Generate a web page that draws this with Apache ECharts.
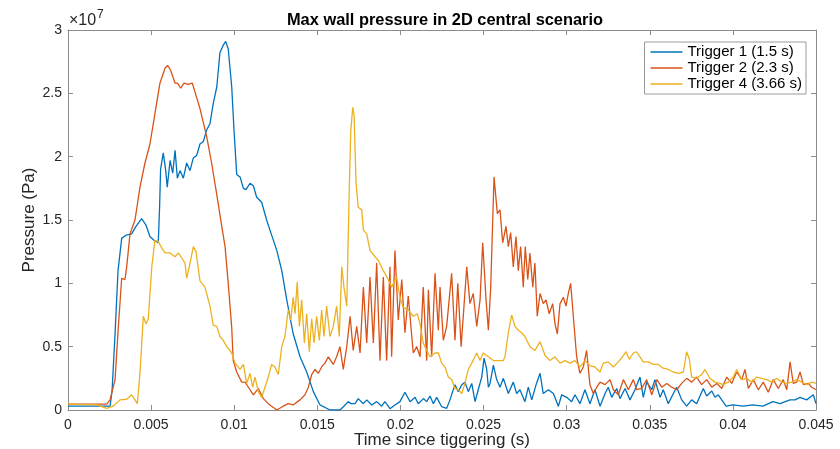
<!DOCTYPE html>
<html>
<head>
<meta charset="utf-8">
<script src="https://cdn.jsdelivr.net/npm/echarts@6/dist/echarts.min.js"></script>
<style>
html,body{margin:0;padding:0;background:#fff;overflow:hidden;}
#chart{width:840px;height:449px;}
</style>
</head>
<body>
<div id="chart"></div>
<script>
// Time since triggering, in milliseconds; pressure in units of 1e7 Pa
var time1 = [0,2.53,2.65,2.83,3.01,3.23,3.49,3.83,4.09,4.43,4.69,4.93,5.17,5.43,5.51,5.57,5.73,5.87,5.97,6.14,6.30,6.44,6.58,6.74,6.94,7.14,7.34,7.54,7.74,7.94,8.14,8.34,8.54,8.74,8.95,9.14,9.34,9.49,9.64,9.85,9.99,10.15,10.35,10.55,10.71,10.95,11.15,11.35,11.65,11.95,12.15,12.56,12.86,13.16,13.55,13.96,14.36,14.76,15.16,15.76,16.36,16.60,16.86,17.03,17.27,17.46,17.77,17.97,18.27,18.57,18.87,19.07,19.37,19.67,19.97,20.27,20.58,20.88,21.07,21.38,21.58,21.78,21.98,22.18,22.48,22.78,22.98,23.28,23.48,23.69,23.88,24.08,24.29,24.49,24.68,24.89,25.03,25.19,25.29,25.39,25.59,25.79,25.99,26.19,26.49,26.79,26.99,27.19,27.49,27.69,27.90,28.16,28.40,28.59,28.90,29.20,29.50,29.70,30.00,30.30,30.50,30.80,31.10,31.40,31.70,32.01,32.31,32.50,32.71,33.01,33.21,33.51,33.81,34.11,34.41,34.61,34.82,35.12,35.31,35.62,35.81,36.11,36.42,36.62,36.92,37.22,37.52,37.82,38.22,38.42,38.73,38.92,39.12,39.33,39.59,40.01,40.61,41.21,41.81,42.41,42.83,43.44,43.74,44.04,44.44,44.84,45.0];
var pressure1 = [0.03,0.03,0.15,0.6,1.1,1.355,1.38,1.39,1.45,1.51,1.46,1.37,1.34,1.32,1.6,1.9,2.03,1.9,1.76,1.97,1.87,2.05,1.83,1.89,1.83,1.95,1.89,1.99,2.01,2.1,2.12,2.21,2.26,2.42,2.55,2.82,2.88,2.91,2.85,2.55,2.2,1.86,1.84,1.75,1.74,1.79,1.77,1.68,1.64,1.5,1.42,1.26,1.1,0.87,0.6,0.42,0.3,0.145,0.04,0.0,0.0,0.03,0.066,0.05,0.05,0.09,0.05,0.08,0.04,0.066,0.03,0.066,0.01,0.04,0.066,0.14,0.066,0.1,0.05,0.09,0.066,0.11,0.05,0.1,0.026,0.013,0.08,0.2,0.145,0.2,0.22,0.145,0.21,0.066,0.16,0.26,0.41,0.32,0.18,0.21,0.355,0.24,0.18,0.25,0.13,0.22,0.13,0.16,0.066,0.18,0.08,0.2,0.29,0.13,0.16,0.13,0.03,0.12,0.1,0.066,0.12,0.05,0.16,0.05,0.16,0.03,0.13,0.18,0.1,0.17,0.09,0.17,0.08,0.16,0.26,0.1,0.22,0.16,0.24,0.1,0.16,0.05,0.13,0.18,0.08,0.03,0.08,0.05,0.17,0.11,0.15,0.1,0.12,0.08,0.03,0.04,0.03,0.04,0.03,0.066,0.05,0.08,0.08,0.1,0.08,0.12,0.05];

var time2 = [0,2.33,2.53,2.83,3.03,3.23,3.43,3.53,3.73,4.03,4.33,4.63,4.93,5.23,5.53,5.84,6.00,6.18,6.44,6.59,6.78,6.98,7.22,7.48,7.64,7.94,8.34,8.64,8.95,9.25,9.45,9.64,9.85,9.94,10.15,10.45,10.65,10.95,11.15,11.45,11.75,12.05,12.56,12.95,13.25,13.54,13.96,14.26,14.46,14.66,14.86,15.06,15.26,15.46,15.66,15.76,15.96,16.16,16.36,16.56,16.77,16.97,17.16,17.37,17.57,17.77,17.97,18.17,18.37,18.57,18.77,18.97,19.17,19.37,19.47,19.67,19.87,20.08,20.27,20.47,20.77,20.98,21.18,21.37,21.58,21.68,21.88,22.08,22.28,22.38,22.58,22.78,23.08,23.28,23.45,23.65,23.99,24.18,24.38,24.59,24.79,24.95,25.15,25.29,25.43,25.63,25.83,25.99,26.15,26.35,26.49,26.63,26.79,26.95,27.09,27.23,27.39,27.51,27.66,27.79,27.96,28.09,28.23,28.40,28.59,28.76,28.95,29.16,29.30,29.44,29.60,29.80,29.96,30.10,30.24,30.40,30.60,30.80,31.00,31.20,31.40,31.60,31.81,32.01,32.31,32.61,32.81,33.11,33.41,33.71,34.01,34.21,34.51,34.81,35.12,35.42,35.72,36.02,36.32,36.62,36.92,37.22,37.52,37.82,38.12,38.42,38.73,39.03,39.33,39.63,39.93,40.23,40.53,40.73,40.93,41.23,41.53,41.83,42.13,42.43,42.73,43.03,43.24,43.44,43.63,43.84,44.04,44.24,44.54,44.74,45.0];
var pressure2 = [0.047,0.047,0.08,0.24,0.66,1.04,1.03,1.13,1.39,1.5,1.76,1.95,2.1,2.34,2.58,2.7,2.72,2.68,2.58,2.58,2.54,2.58,2.57,2.58,2.51,2.38,2.16,1.95,1.7,1.45,1.29,1.0,0.65,0.39,0.3,0.22,0.22,0.16,0.12,0.17,0.09,0.05,0.0,0.03,0.05,0.04,0.08,0.12,0.18,0.28,0.32,0.29,0.34,0.37,0.42,0.42,0.36,0.42,0.5,0.32,0.5,0.74,0.47,0.66,0.45,0.97,0.53,1.05,0.53,1.16,0.39,1.05,0.39,1.13,0.42,1.26,0.71,1.03,0.61,0.9,0.45,0.5,0.42,0.97,0.39,0.95,0.42,1.08,0.63,0.97,0.55,0.66,1.08,0.55,1.0,0.5,1.13,0.84,0.92,0.66,0.87,1.32,0.87,0.63,0.97,1.84,1.55,1.58,1.32,1.45,1.29,1.4,1.13,1.37,1.1,1.29,0.97,1.29,1.03,1.24,0.97,1.16,0.74,0.92,0.84,0.87,0.76,0.84,0.68,0.6,0.84,0.89,0.82,0.92,1.0,0.74,0.42,0.29,0.34,0.47,0.2,0.13,0.18,0.22,0.2,0.24,0.16,0.12,0.24,0.16,0.24,0.16,0.17,0.24,0.12,0.24,0.18,0.21,0.18,0.16,0.21,0.25,0.22,0.26,0.2,0.24,0.18,0.21,0.17,0.26,0.21,0.3,0.24,0.32,0.17,0.24,0.16,0.22,0.14,0.24,0.17,0.24,0.16,0.38,0.21,0.22,0.3,0.2,0.21,0.18,0.16];

var time4 = [0,1.73,2.33,2.71,3.13,3.53,3.83,4.03,4.17,4.33,4.53,4.69,4.83,5.04,5.23,5.43,5.64,5.84,6.14,6.44,6.64,6.84,7.04,7.14,7.34,7.54,7.70,7.94,8.24,8.54,8.74,8.95,9.14,9.34,9.55,9.85,10.05,10.35,10.55,10.75,10.95,11.11,11.25,11.45,11.65,11.85,12.05,12.25,12.45,12.65,12.86,13.05,13.25,13.40,13.55,13.66,13.79,13.92,14.06,14.22,14.36,14.52,14.66,14.80,14.96,15.12,15.26,15.40,15.56,15.76,15.96,16.16,16.32,16.47,16.60,16.77,16.92,17.01,17.13,17.21,17.33,17.46,17.67,17.77,17.97,18.17,18.47,18.67,18.97,19.27,19.47,19.77,19.97,20.17,20.47,20.77,21.01,21.18,21.37,21.58,21.78,22.08,22.28,22.48,22.68,22.88,23.08,23.28,23.48,23.69,23.88,24.08,24.29,24.59,24.79,24.98,25.29,25.59,25.89,26.19,26.29,26.49,26.69,26.89,27.09,27.29,27.49,27.79,28.09,28.40,28.70,29.00,29.30,29.60,29.90,30.20,30.50,30.80,31.10,31.40,31.70,32.01,32.20,32.50,32.81,33.11,33.41,33.57,33.77,34.01,34.21,34.41,34.61,34.91,35.21,35.51,35.81,36.11,36.41,36.72,37.02,37.22,37.38,37.52,37.82,38.12,38.32,38.62,38.92,39.22,39.42,39.72,40.02,40.23,40.53,40.83,41.13,41.43,41.73,42.03,42.33,42.63,42.94,43.24,43.54,43.84,44.14,44.44,44.74,45.0];
var pressure4 = [0.047,0.04,0.013,0.03,0.08,0.085,0.12,0.08,0.05,0.29,0.74,0.68,0.72,1.13,1.34,1.33,1.28,1.24,1.24,1.21,1.24,1.2,1.16,1.04,1.16,1.29,1.25,1.02,0.97,0.82,0.67,0.66,0.58,0.55,0.5,0.45,0.37,0.32,0.36,0.21,0.29,0.18,0.26,0.145,0.1,0.18,0.26,0.36,0.34,0.28,0.5,0.58,0.79,0.71,0.89,0.76,1.01,0.66,0.87,0.53,0.76,0.46,0.72,0.53,0.74,0.55,0.79,0.58,0.82,0.58,0.66,0.82,0.58,1.13,0.97,0.82,1.74,2.2,2.39,2.33,1.79,1.6,1.58,1.42,1.39,1.26,1.21,1.18,1.1,1.03,0.97,1.05,0.89,0.81,0.79,0.74,0.76,0.68,0.53,0.47,0.42,0.45,0.45,0.37,0.34,0.26,0.24,0.17,0.16,0.13,0.21,0.32,0.37,0.45,0.39,0.45,0.42,0.39,0.39,0.39,0.42,0.61,0.75,0.66,0.63,0.61,0.58,0.5,0.47,0.54,0.43,0.39,0.42,0.37,0.39,0.37,0.39,0.34,0.39,0.35,0.34,0.3,0.37,0.38,0.34,0.38,0.43,0.46,0.4,0.45,0.46,0.42,0.38,0.38,0.36,0.36,0.33,0.32,0.3,0.29,0.3,0.46,0.4,0.26,0.25,0.28,0.32,0.25,0.22,0.21,0.2,0.22,0.26,0.32,0.24,0.25,0.22,0.26,0.25,0.24,0.22,0.25,0.22,0.21,0.22,0.24,0.22,0.2,0.22,0.21];

var seriesNames = ['Trigger 1 (1.5 s)', 'Trigger 2 (2.3 s)', 'Trigger 4 (3.66 s)'];
var seriesColors = ['#0072BD', '#D95319', '#EDB120'];

function pairs(t, p) {
  var out = [];
  for (var i = 0; i < t.length; i++) out.push([t[i] / 1000, p[i]]);
  return out;
}
var allData = [pairs(time1, pressure1), pairs(time2, pressure2), pairs(time4, pressure4)];

var FONT = '"Liberation Sans", Arial, Helvetica, sans-serif';
var axisColor = '#8c8c8c';
var labelColor = '#262626';

var chart = echarts.init(document.getElementById('chart'), null, {renderer: 'canvas'});
var option = {
  animation: false,
  backgroundColor: '#fff',
  textStyle: {fontFamily: FONT},
  title: {
    text: 'Max wall pressure in 2D central scenario',
    left: 440, top: 7, textAlign: 'center',
    textStyle: {fontFamily: FONT, fontSize: 16.4, fontWeight: 'bold', color: '#000'}
  },
  graphic: [
    {type: 'text', left: 69, top: 13, style: {text: '×10', font: '16px ' + FONT, fill: labelColor}},
    {type: 'text', left: 97, top: 9, style: {text: '7', font: '12px ' + FONT, fill: labelColor}}
  ],
  legend: {
    data: seriesNames,
    orient: 'vertical',
    right: 34, top: 42,
    backgroundColor: '#fff',
    borderColor: '#9a9a9a', borderWidth: 1, borderRadius: 0,
    padding: [2, 4, 2, 6],
    itemGap: 0,
    icon: 'rect',
    itemWidth: 32, itemHeight: 1.5,
    textStyle: {fontFamily: FONT, fontSize: 15, color: '#000', lineHeight: 16}
  },
  grid: {left: 68, right: 24, top: 30, bottom: 39, containLabel: false, outerBoundsMode: 'none'},
  xAxis: [{
    type: 'value', min: 0, max: 0.045, interval: 0.005,
    name: 'Time since tiggering (s)', nameLocation: 'middle', nameGap: 22, nameMoveOverlap: false,
    nameTextStyle: {fontFamily: FONT, fontSize: 17, color: labelColor},
    axisLine: {show: true, onZero: false, lineStyle: {color: axisColor, width: 1}},
    axisTick: {show: true, inside: true, length: 5, lineStyle: {color: axisColor}},
    axisLabel: {fontFamily: FONT, fontSize: 14, color: labelColor, margin: 8,
      formatter: function (v) { return String(+v.toFixed(3)); }},
    splitLine: {show: false}
  }, {
    type: 'value', position: 'top', min: 0, max: 0.045, interval: 0.005,
    axisLine: {show: true, onZero: false, lineStyle: {color: axisColor, width: 1}},
    axisTick: {show: true, inside: true, length: 5, lineStyle: {color: axisColor}},
    axisLabel: {show: false}, splitLine: {show: false}
  }],
  yAxis: [{
    type: 'value', min: 0, max: 3, interval: 0.5,
    name: 'Pressure (Pa)', nameLocation: 'middle', nameGap: 30, nameMoveOverlap: false,
    nameTextStyle: {fontFamily: FONT, fontSize: 17, color: labelColor},
    axisLine: {show: true, onZero: false, lineStyle: {color: axisColor, width: 1}},
    axisTick: {show: true, inside: true, length: 5, lineStyle: {color: axisColor}},
    axisLabel: {fontFamily: FONT, fontSize: 14, color: labelColor, margin: 6,
      formatter: function (v) { return String(+v.toFixed(1)); }},
    splitLine: {show: false}
  }, {
    type: 'value', position: 'right', min: 0, max: 3, interval: 0.5,
    axisLine: {show: true, onZero: false, lineStyle: {color: axisColor, width: 1}},
    axisTick: {show: true, inside: true, length: 5, lineStyle: {color: axisColor}},
    axisLabel: {show: false}, splitLine: {show: false}
  }],
  series: seriesNames.map(function (name, i) {
    return {
      name: name, type: 'line', xAxisIndex: 0, yAxisIndex: 0,
      data: allData[i], symbol: 'none', showSymbol: false,
      lineStyle: {color: seriesColors[i], width: 1.3},
      itemStyle: {color: seriesColors[i]},
      clip: true
    };
  })
};
chart.setOption(option);
</script>
</body>
</html>
